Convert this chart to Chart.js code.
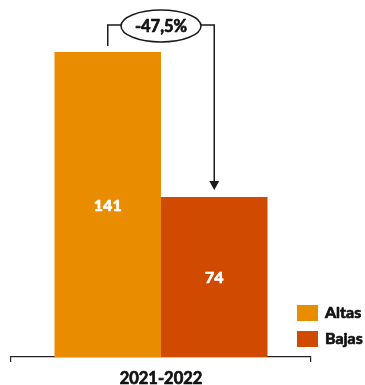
<!DOCTYPE html>
<html>
<head>
<meta charset="utf-8">
<script src="https://cdn.jsdelivr.net/npm/chart.js@4/dist/chart.umd.min.js"></script>
<style>
  html, body { margin: 0; padding: 0; background: #fff; }
  #wrap { width: 365px; height: 385px; }
</style>
</head>
<body>
<div id="wrap"><canvas id="chart" width="365" height="385"></canvas></div>
<script>
const periods = ['2021-2022'];
const seriesNames = ['Altas', 'Bajas'];
const altas = [141];
const bajas = [74];
const seriesColors = ['#EA8C00', '#D04A02'];

const FONT = 'Lato, "Open Sans", sans-serif';

// bold text with a thin outline of the same colour so it reads heavier
function heavyText(ctx, text, x, y, color) {
  ctx.fillStyle = color;
  ctx.strokeStyle = color;
  ctx.lineWidth = 0.7;
  ctx.lineJoin = 'round';
  ctx.strokeText(text, x, y);
  ctx.fillText(text, x, y);
}

// value labels inside the bars
const barLabels = {
  id: 'barLabels',
  afterDatasetsDraw(chart) {
    const ctx = chart.ctx;
    ctx.save();
    ctx.font = 'bold 16px ' + FONT;
    ctx.textAlign = 'center';
    ctx.textBaseline = 'middle';
    chart.data.datasets.forEach((ds, i) => {
      chart.getDatasetMeta(i).data.forEach((bar, j) => {
        const mid = (bar.y + bar.base) / 2;
        heavyText(ctx, String(ds.data[j]), bar.x, mid + 1, '#fff');
      });
    });
    ctx.restore();
  }
};

// change bracket with the percentage bubble
const changeBracket = {
  id: 'changeBracket',
  afterDatasetsDraw(chart) {
    const a = chart.getDatasetMeta(0).data[0];
    const b = chart.getDatasetMeta(1).data[0];
    const va = chart.data.datasets[0].data[0];
    const vb = chart.data.datasets[1].data[0];
    const pct = ((vb - va) / va * 100).toFixed(1).replace('.', ',') + '%';
    const ctx = chart.ctx;
    const lineY = 25;
    const cx = (a.x + b.x) / 2;
    const rx = 40, ry = 16;
    ctx.save();
    ctx.strokeStyle = '#1a1a1a';
    ctx.lineWidth = 1.5;
    ctx.beginPath();
    ctx.moveTo(a.x, a.y - 6);
    ctx.lineTo(a.x, lineY);
    ctx.lineTo(cx - rx, lineY);
    ctx.moveTo(cx + rx, lineY);
    ctx.lineTo(b.x, lineY);
    ctx.lineTo(b.x, b.y - 12);
    ctx.stroke();
    // arrow head
    ctx.fillStyle = '#1a1a1a';
    ctx.beginPath();
    ctx.moveTo(b.x - 5, b.y - 16);
    ctx.lineTo(b.x + 5, b.y - 16);
    ctx.lineTo(b.x, b.y - 7);
    ctx.closePath();
    ctx.fill();
    // bubble
    ctx.beginPath();
    ctx.ellipse(cx, lineY + 1, rx, ry, 0, 0, Math.PI * 2);
    ctx.fillStyle = '#fff';
    ctx.fill();
    ctx.stroke();
    ctx.font = 'bold 16.5px ' + FONT;
    ctx.textAlign = 'center';
    ctx.textBaseline = 'middle';
    heavyText(ctx, pct, cx, lineY + 2, '#111');
    ctx.restore();
  }
};

// legend boxes at the lower right
const sideLegend = {
  id: 'sideLegend',
  afterDraw(chart) {
    const ctx = chart.ctx;
    ctx.save();
    ctx.font = 'bold 16px ' + FONT;
    ctx.textBaseline = 'middle';
    chart.data.datasets.forEach((ds, i) => {
      const y = 305 + i * 26;
      ctx.fillStyle = ds.backgroundColor;
      ctx.fillRect(297, y, 21, 16);
      heavyText(ctx, ds.label, 325, y + 8, '#111');
    });
    ctx.restore();
  }
};

new Chart(document.getElementById('chart'), {
  type: 'bar',
  data: {
    labels: periods,
    datasets: [
      { label: seriesNames[0], data: altas, backgroundColor: seriesColors[0] },
      { label: seriesNames[1], data: bajas, backgroundColor: seriesColors[1] }
    ]
  },
  options: {
    responsive: false,
    animation: false,
    layout: { padding: { top: 11, left: 11, right: 54, bottom: 0 } },
    datasets: { bar: { categoryPercentage: 0.71, barPercentage: 1 } },
    plugins: { legend: { display: false }, tooltip: { enabled: false } },
    scales: {
      y: { display: false, min: 0, max: 160 },
      x: {
        afterFit(scale) { scale.height = 28; },
        grid: { offset: true, drawOnChartArea: false, drawTicks: true, tickLength: 5, color: '#222', lineWidth: 1.2 },
        border: { display: true, color: '#222', width: 1.2 },
        ticks: {
          color: '#111',
          font: { family: FONT, size: 16.5, weight: 'bold' },
          padding: 7,
          textStrokeColor: '#111',
          textStrokeWidth: 0.7
        }
      }
    }
  },
  plugins: [barLabels, changeBracket, sideLegend]
});
</script>
</body>
</html>
